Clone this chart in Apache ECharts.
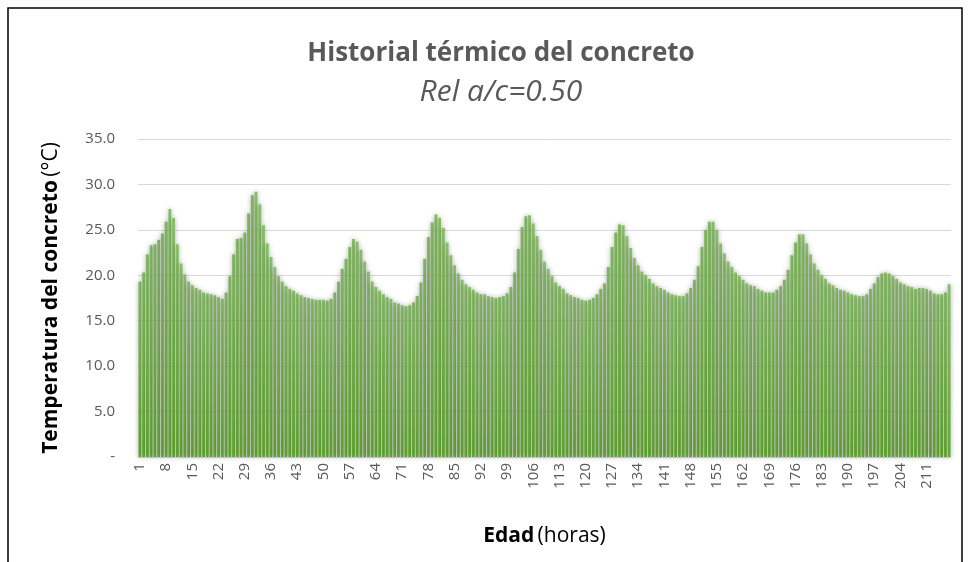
<!DOCTYPE html>
<html>
<head>
<meta charset="utf-8">
<script src="https://cdn.jsdelivr.net/npm/echarts@6/dist/echarts.min.js"></script>
<style>
  html, body { margin: 0; padding: 0; background: #fff; }
  #main { width: 968px; height: 562px; }
</style>
</head>
<body>
<div id="main"></div>
<script>
// temperatura del concreto por hora (°C)
var temperatura = [
  19.3, 20.3, 22.3, 23.3, 23.4, 23.9, 24.6, 25.9, 27.3, 26.3,
  23.4, 21.3, 20.1, 19.3, 18.9, 18.6, 18.4, 18.1, 18.0, 17.9,
  17.8, 17.6, 17.4, 18.1, 19.9, 22.3, 24.0, 24.1, 24.7, 26.8,
  28.8, 29.2, 27.8, 25.5, 23.5, 22.0, 20.9, 19.9, 19.3, 18.8,
  18.5, 18.3, 18.0, 17.8, 17.6, 17.5, 17.4, 17.3, 17.3, 17.3,
  17.2, 17.4, 18.1, 19.3, 20.7, 21.8, 23.1, 24.0, 23.7, 22.8,
  21.5, 20.4, 19.3, 18.7, 18.3, 17.9, 17.6, 17.4, 17.0, 16.9,
  16.7, 16.6, 16.7, 17.0, 17.7, 19.2, 21.8, 24.2, 25.8, 26.7,
  26.3, 25.2, 23.6, 22.2, 21.1, 20.2, 19.5, 19.0, 18.7, 18.4,
  18.1, 17.9, 17.9, 17.7, 17.6, 17.5, 17.6, 17.7, 18.0, 18.7,
  20.3, 22.9, 25.3, 26.5, 26.6, 25.7, 24.3, 22.8, 21.5, 20.7,
  19.9, 19.2, 18.8, 18.5, 18.0, 17.8, 17.6, 17.5, 17.3, 17.2,
  17.3, 17.5, 17.9, 18.5, 19.1, 20.9, 23.1, 24.7, 25.6, 25.5,
  24.3, 23.0, 21.9, 21.1, 20.4, 20.0, 19.6, 19.1, 18.8, 18.6,
  18.4, 18.1, 17.9, 17.8, 17.7, 17.7, 18.0, 18.6, 19.5, 21.0,
  23.1, 25.0, 25.9, 25.9, 25.0, 23.5, 22.4, 21.5, 20.9, 20.3,
  19.9, 19.5, 19.1, 18.9, 18.8, 18.5, 18.3, 18.1, 18.1, 18.1,
  18.4, 18.8, 19.5, 20.6, 22.2, 23.6, 24.5, 24.5, 23.5, 22.3,
  21.3, 20.6, 20.0, 19.6, 19.1, 18.9, 18.6, 18.4, 18.3, 18.1,
  17.9, 17.8, 17.7, 17.7, 17.9, 18.5, 19.1, 19.8, 20.2, 20.3,
  20.2, 19.9, 19.6, 19.2, 19.0, 18.8, 18.7, 18.5, 18.6, 18.6,
  18.5, 18.3, 18.0, 17.9, 17.9, 18.1, 19.0
];
// edad en horas: 1, 2, 3, ...
var horas = temperatura.map(function (v, i) { return String(i + 1); });
var yTicks = [0, 5, 10, 15, 20, 25, 30, 35];

var font = 'Open Sans';
var gris = '#595959';

var chart = echarts.init(document.getElementById('main'));
var option = {
  animation: false,
  backgroundColor: '#fff',
  graphic: [{
    type: 'rect',
    shape: { x: 8, y: 8, width: 954, height: 600 },
    style: { fill: 'none', stroke: '#000', lineWidth: 1.5 }
  }],
  title: {
    text: 'Historial térmico del concreto',
    subtext: 'Rel a/c=0.50',
    left: 496,
    textAlign: 'center',
    top: 36,
    itemGap: 10,
    textStyle: { fontFamily: font, fontWeight: 'bold', fontSize: 26, color: gris },
    subtextStyle: { fontFamily: font, fontStyle: 'italic', fontSize: 30, color: gris }
  },
  grid: { left: 138, right: 17, top: 139, bottom: 105 },
  xAxis: {
    type: 'category',
    data: horas,
    name: '{b|Edad} {n|(horas)}',
    nameLocation: 'middle',
    nameGap: 69,
    nameTextStyle: {
      rich: {
        b: { fontFamily: font, fontWeight: 'bold', fontSize: 21, color: '#000' },
        n: { fontFamily: font, fontSize: 21, color: '#000' }
      }
    },
    axisLine: { lineStyle: { color: '#d9d9d9', width: 1 } },
    axisTick: { show: false },
    axisLabel: {
      interval: 6,
      rotate: 90,
      margin: 6,
      fontFamily: font,
      fontSize: 15,
      color: gris
    }
  },
  yAxis: {
    type: 'value',
    min: yTicks[0],
    max: yTicks[yTicks.length - 1],
    interval: 5,
    name: '{b|Temperatura del concreto} {n|(°C)}',
    nameLocation: 'middle',
    nameGap: 76,
    nameTextStyle: {
      rich: {
        b: { fontFamily: font, fontWeight: 'bold', fontSize: 21, color: '#000' },
        n: { fontFamily: font, fontSize: 21, color: '#000' }
      }
    },
    axisLine: { show: false },
    axisTick: { show: false },
    splitLine: { lineStyle: { color: '#d9d9d9', width: 1 } },
    axisLabel: {
      margin: 23,
      fontFamily: font,
      fontSize: 15,
      color: gris,
      formatter: function (v) { return v === 0 ? '-' : v.toFixed(1); }
    }
  },
  series: [{
    type: 'bar',
    data: temperatura,
    barCategoryGap: '25%',
    itemStyle: {
      color: new echarts.graphic.LinearGradient(0, 0, 0, 1, [
        { offset: 0, color: '#86bd66' },
        { offset: 1, color: '#62a831' }
      ]),
      shadowColor: 'rgba(0,0,0,0.35)',
      shadowBlur: 5
    }
  }]
};
chart.setOption(option);
</script>
</body>
</html>
